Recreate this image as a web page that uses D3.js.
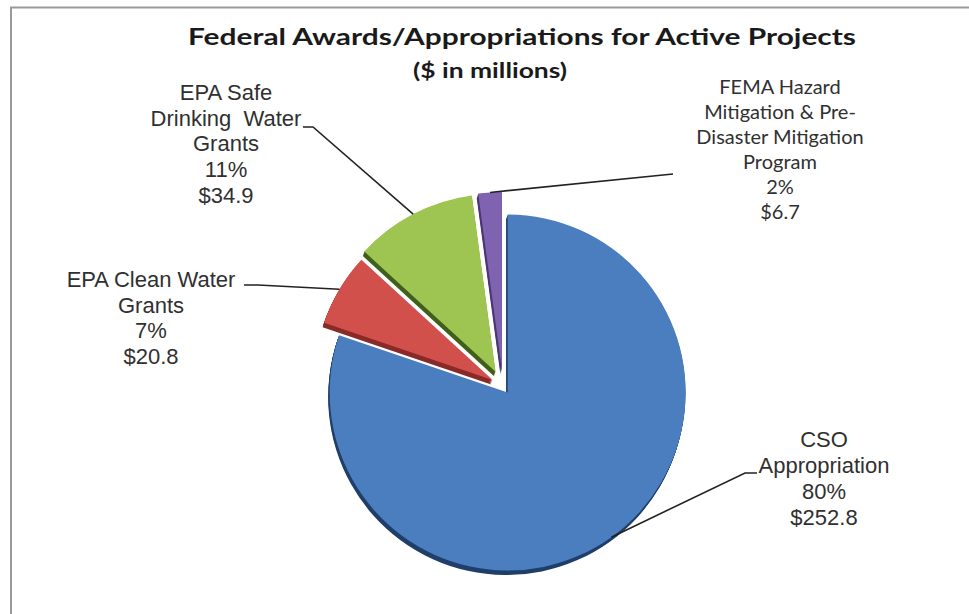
<!DOCTYPE html>
<html><head><meta charset="utf-8">
<script src="https://cdn.jsdelivr.net/npm/d3@7"></script>
<style>body{margin:0;background:#fff}svg{display:block}</style>
</head><body>
<script>
// ---- data ----
const categories = ["CSO Appropriation", "EPA Clean Water Grants", "EPA Safe Drinking Water Grants", "FEMA Hazard Mitigation & Pre-Disaster Mitigation Program"];
const values = [252.8, 20.8, 34.9, 6.7];
const labelLines = [
  ["CSO", "Appropriation"],
  ["EPA Clean Water", "Grants"],
  ["EPA Safe", "Drinking  Water", "Grants"],
  ["FEMA Hazard", "Mitigation & Pre-", "Disaster Mitigation", "Program"]
];
const titleText = "Federal Awards/Appropriations for Active Projects";
const subtitleText = "($ in millions)";

// ---- style / layout ----
const W = 969, H = 614;
const faceColors = ["#4a7ebf", "#d2504c", "#9ec552", "#7f62b0"];
const sideColors = ["#1f3f6a", "#8a2a28", "#3f5f1a", "#4a3575"];
const explode = [8, 12, 16, 16];
const origin = [503, 386];
const R = 178;
const depth = [-1.5, 4.5];
const labelLayout = [
  {cx: 824, y: 447, lh: 26, font: "'Liberation Sans', Arial, sans-serif", size: 22, leader: [[757, 473], [745, 473]]},
  {cx: 151, y: 287, lh: 25.5, font: "'Liberation Sans', Arial, sans-serif", size: 22, leader: [[244, 285], [258, 285]]},
  {cx: 226, y: 100, lh: 25.7, font: "'Liberation Sans', Arial, sans-serif", size: 22, leader: [[303, 127], [313, 127]]},
  {cx: 780, y: 94, lh: 25, font: "Lato, 'Open Sans', sans-serif", size: 20, leader: [[673, 174]]}
];

const svg = d3.select("body").append("svg").attr("width", W).attr("height", H);
svg.append("rect").attr("width", W).attr("height", H).attr("fill", "#fff");
svg.append("path").attr("d", `M11,${H} V7.5 H${W}`).attr("fill", "none").attr("stroke", "#9a9a9a").attr("stroke-width", 2);

const total = d3.sum(values);
const pct = d3.format(".0%");
const pie = d3.pie().sort(null).startAngle(0).endAngle(2 * Math.PI).value(d => d);
const arcs = pie(values);
const arc = d3.arc().innerRadius(0).outerRadius(R);

function centerOf(i) {
  const a = arcs[i], m = (a.startAngle + a.endAngle) / 2;
  return [origin[0] + explode[i] * Math.sin(m), origin[1] - explode[i] * Math.cos(m)];
}

const g = svg.append("g");
// side walls (depth)
arcs.forEach((a, i) => {
  const c = centerOf(i);
  for (let k = 1; k <= 6; k++) {
    g.append("path").attr("d", arc(a))
      .attr("transform", `translate(${c[0] + depth[0] * k / 6},${c[1] + depth[1] * k / 6})`)
      .attr("fill", sideColors[i]);
  }
});
// faces
arcs.forEach((a, i) => {
  const c = centerOf(i);
  g.append("path").attr("d", arc(a))
    .attr("transform", `translate(${c[0]},${c[1]})`)
    .attr("fill", faceColors[i]);
});

// title
svg.append("text").attr("x", 522).attr("y", 45).attr("text-anchor", "middle")
  .attr("font-family", "Lato, sans-serif").attr("font-weight", 700).attr("font-size", 23)
  .attr("fill", "#1a1a1a").attr("textLength", 668).attr("lengthAdjust", "spacingAndGlyphs")
  .text(titleText);
svg.append("text").attr("x", 490).attr("y", 78).attr("text-anchor", "middle")
  .attr("font-family", "Lato, sans-serif").attr("font-weight", 700).attr("font-size", 20)
  .attr("fill", "#1a1a1a").attr("textLength", 154).attr("lengthAdjust", "spacingAndGlyphs")
  .text(subtitleText);

// labels + leaders
arcs.forEach((a, i) => {
  const L = labelLayout[i];
  const lines = labelLines[i].concat([pct(values[i] / total), "$" + values[i].toFixed(1)]);
  const t = svg.append("text").attr("text-anchor", "middle")
    .attr("font-family", L.font).attr("font-size", L.size).attr("fill", "#303030");
  lines.forEach((s, j) => {
    t.append("tspan").attr("x", L.cx).attr("y", L.y + j * L.lh).attr("xml:space", "preserve").text(s);
  });
  t.style("white-space", "pre");
  const c = centerOf(i), m = (a.startAngle + a.endAngle) / 2;
  const end = [c[0] + R * Math.sin(m), c[1] - R * Math.cos(m)];
  const pts = L.leader.concat([end]);
  svg.append("path").attr("d", d3.line()(pts)).attr("fill", "none")
    .attr("stroke", "#222").attr("stroke-width", 1.6);
});
</script>
</body></html>
